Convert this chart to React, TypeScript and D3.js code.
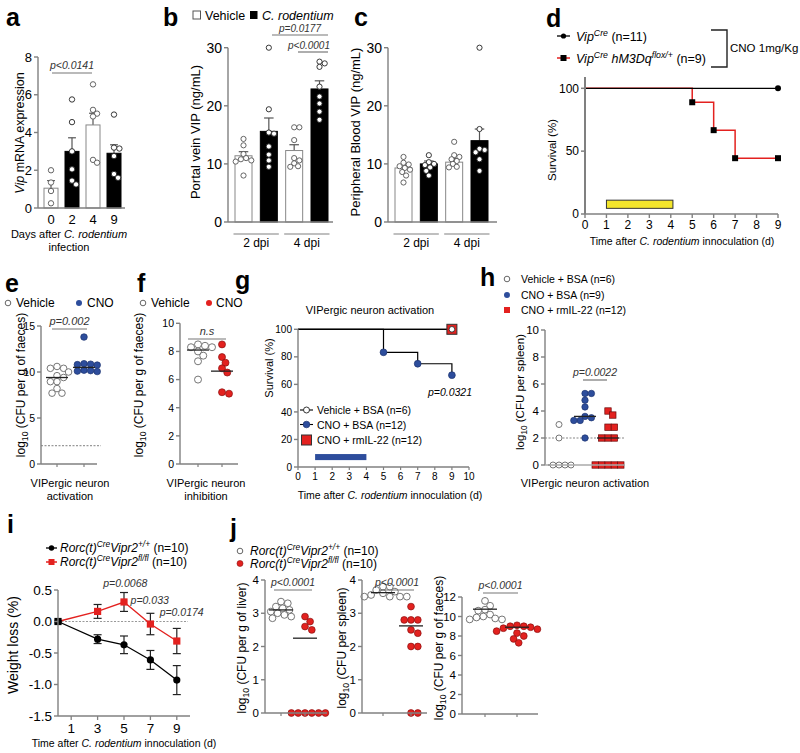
import React from "react";
import * as d3 from "d3";

const FONT = "'Liberation Sans', Arial, Helvetica, sans-serif";
const AXIS = "#808080";
const BLUE = "#2d4d9c";
const RED = "#e3211f";

// ---------------- data ----------------
// a
const aDays = ["0", "2", "4", "9"];
const aMeans = [1.05, 3.0, 4.4, 2.9];
const aSem = [0.4, 0.72, 0.62, 0.45];
const aPoints = [
  [2.0, 1.35, 0.9, 0.25],
  [5.75, 4.55, 3.0, 2.05, 1.45, 1.25],
  [6.55, 5.2, 5.0, 4.85, 2.55, 2.4],
  [4.95, 3.2, 3.15, 2.75, 1.8, 1.6],
];
const aTicks = [0, 2, 4, 6, 8];
// b
const bDpi = ["2 dpi", "4 dpi"];
const bMeans = [11.4, 15.6, 12.3, 22.9];
const bSem = [0.7, 2.3, 1.0, 1.4];
const bPoints = [
  [14.3, 13.2, 11.7, 11.0, 10.8, 10.6, 10.4, 8.0],
  [30.0, 19.4, 15.4, 15.2, 13.0, 11.6, 10.6, 9.5],
  [16.3, 16.3, 14.1, 11.0, 10.6, 10.1, 9.6, 9.5],
  [27.6, 27.3, 26.7, 23.3, 21.6, 20.4, 19.0, 17.6],
];
const vipTicks = [0, 10, 20, 30];
// c
const cMeans = [9.3, 10.0, 10.3, 14.0];
const cSem = [0.5, 0.5, 0.6, 2.0];
const cPoints = [
  [11.2, 10.2, 9.9, 9.6, 9.3, 9.0, 8.6, 8.0, 6.8],
  [11.5, 10.3, 10.0, 9.8, 9.4, 8.8, 8.0],
  [13.8, 11.5, 11.2, 10.8, 10.5, 10.0, 9.5, 9.4],
  [30.0, 16.0, 12.6, 12.4, 12.0, 10.8, 8.8],
];
const barFills = ["white", "black", "white", "black"];
// d
const dDays = d3.range(0, 10);
const dCtrlT = [0, 9];
const dCtrlV = [100, 100];
const dHmT = [0, 5, 6, 7, 9];
const dHmV = [100, 88.9, 66.7, 44.4, 44.4];
const dYTicks = [0, 50, 100];
const dTreat = [1, 4.1];
// e
const eVeh = [10.6, 10.4, 10.4, 10.0, 9.6, 9.4, 8.95, 8.95, 8.2, 7.7, 7.7];
const eCno = [13.8, 10.9, 10.85, 10.8, 10.75, 10.2, 10.15, 10.1, 10.05];
const eLines = [9.4, 10.5];
const eTicks = [0, 5, 10, 15];
// f
const fVeh = [8.4, 8.3, 8.3, 8.5, 8.0, 7.7, 7.3, 6.0];
const fCno = [8.5, 7.6, 7.2, 6.8, 6.5, 5.0, 5.1];
const fLines = [8.1, 6.6];
const fTicks = [0, 2, 4, 6, 8, 10];
// g
const gVehT = [0, 9];
const gVehV = [100, 100];
const gBsaT = [0, 5, 7, 9];
const gBsaV = [100, 83.3, 75, 66.7];
const gIlT = [0, 9];
const gIlV = [100, 100];
const gXTicks = d3.range(0, 11);
const gYTicks = [0, 20, 40, 60, 80, 100];
const gTreat = [1, 4];
// h
const hVeh = [3.0, 2.0, 0, 0, 0, 0];
const hBsa = [5.3, 5.3, 4.8, 4.3, 3.6, 3.5, 3.3, 3.3, 2.0];
const hIl = [4.0, 3.7, 2.8, 2.8, 2.0, 2.0, 2.0, 0, 0, 0, 0, 0];
const hTicks = [0, 2, 4, 6, 8, 10];
// i
const iDays = [0, 3, 5, 7, 9];
const iWt = [0, -0.28, -0.37, -0.61, -0.93];
const iWtErr = [0, 0.07, 0.14, 0.15, 0.23];
const iKo = [0, 0.16, 0.31, -0.04, -0.31];
const iKoErr = [0, 0.11, 0.15, 0.17, 0.2];
const iXTicks = [1, 3, 5, 7, 9];
const iYTicks = [0.5, 0, -0.5, -1.0, -1.5];
// j
const jLiverWt = [3.35, 3.3, 3.2, 3.15, 3.1, 3.05, 3.0, 2.95, 2.9, 2.85];
const jLiverKo = [2.9, 2.75, 2.6, 2.5, 0, 0, 0, 0, 0, 0];
const jLiverLines = [3.1, 2.25];
const jSpleenWt = [3.8, 3.8, 3.7, 3.65, 3.6, 3.55, 3.5, 3.5, 3.5, 3.5];
const jSpleenKo = [3.2, 2.8, 2.8, 2.8, 2.5, 2.4, 2.0, 2.0, 0, 0];
const jSpleenLines = [3.62, 2.62];
const jFaecesWt = [11.6, 11.1, 10.7, 10.6, 10.2, 10.0, 9.9, 9.8, 9.7, 9.7];
const jFaecesKo = [9.1, 9.0, 9.0, 8.9, 8.8, 8.7, 8.5, 8.3, 8.0, 7.7, 7.3];
const jFaecesLines = [10.75, 8.9];
const jTicks4 = [0, 1, 2, 3, 4];
const jTicks12 = [0, 2, 4, 6, 8, 10, 12];

// ---------------- helpers ----------------
type Pt = { x: number; y: number };
function swarm(values: number[], y: (v: number) => number, cx: number, r: number): Pt[] {
  const placed: Pt[] = [];
  const sorted = [...values].sort((a, b) => b - a);
  for (const v of sorted) {
    const py = y(v);
    for (let k = 0; k < 80; k++) {
      const off = k === 0 ? 0 : Math.ceil(k / 2) * r * 0.5 * (k % 2 ? 1 : -1);
      const px = cx + off;
      if (placed.every((p) => (p.x - px) ** 2 + (p.y - py) ** 2 >= (2 * r * 0.9) ** 2)) {
        placed.push({ x: px, y: py });
        break;
      }
    }
  }
  return placed;
}

function YAxis({ x, y, ticks, fs, fmt = (t: number) => String(t), len = 4, top }: any) {
  const dom = y.domain();
  return (
    <g>
      <line x1={x} x2={x} y1={y(dom[0])} y2={top ?? y(dom[1])} stroke={AXIS} strokeWidth={1.4} />
      {ticks.map((t: number) => (
        <g key={t}>
          <line x1={x - len} x2={x} y1={y(t)} y2={y(t)} stroke={AXIS} strokeWidth={1.4} />
          <text x={x - len - 2} y={y(t)} dy="0.36em" textAnchor="end" fontSize={fs}>
            {fmt(t)}
          </text>
        </g>
      ))}
    </g>
  );
}

function HLine({ x1, x2, y, w = 1.4, color = AXIS, dash }: any) {
  return <line x1={x1} x2={x2} y1={y} y2={y} stroke={color} strokeWidth={w} strokeDasharray={dash} />;
}

function Letter({ x, y, c }: any) {
  return (
    <text x={x} y={y} fontSize={25} fontWeight="bold">
      {c}
    </text>
  );
}

function YLabel({ x, y, fs, children }: any) {
  return (
    <text transform={`translate(${x},${y}) rotate(-90)`} textAnchor="middle" fontSize={fs}>
      {children}
    </text>
  );
}

function Log10({ rest }: { rest: string }) {
  return (
    <>
      <tspan>log</tspan>
      <tspan dy={3} fontSize="0.72em">10</tspan>
      <tspan dy={-3}>{" " + rest}</tspan>
    </>
  );
}

function Sig({ x1, x2, y, label, fs = 10.5, tx, ty }: any) {
  return (
    <g>
      <HLine x1={x1} x2={x2} y={y} w={1.2} color="#777" />
      <text x={tx ?? (x1 + x2) / 2} y={ty ?? y - 4} textAnchor="middle" fontSize={fs} fontStyle="italic" fill="#333">
        {label}
      </text>
    </g>
  );
}

function BarChart({ axisX, axisEnd, y, centers, bw, means, sems, points, ticks, fs, r = 2.6 }: any) {
  const y0 = y(0);
  return (
    <g>
      {means.map((m: number, i: number) => {
        const cx = centers[i];
        const black = barFills[i] === "black";
        const top = y(m + sems[i]);
        return (
          <g key={i}>
            <line x1={cx} x2={cx} y1={y(m)} y2={top} stroke="#555" strokeWidth={1.2} />
            <line x1={cx - bw * 0.28} x2={cx + bw * 0.28} y1={top} y2={top} stroke="#555" strokeWidth={1.2} />
            <rect x={cx - bw / 2} y={y(m)} width={bw} height={y0 - y(m)} fill={black ? "#000" : "#fff"} stroke={black ? "#000" : "#888"} strokeWidth={1} />
            {swarm(points[i], y, cx, r).map((p, k) => (
              <circle key={k} cx={p.x} cy={p.y} r={r} fill="#fff" stroke={black ? "#222" : "#555"} strokeWidth={0.9} />
            ))}
          </g>
        );
      })}
      <YAxis x={axisX} y={y} ticks={ticks} fs={fs} />
      <HLine x1={axisX} x2={axisEnd} y={y0} />
    </g>
  );
}

function Dots({ values, y, cx, r, kind }: any) {
  const pts = swarm(values, y, cx, r);
  return (
    <g>
      {pts.map((p, k) => {
        if (kind === "open") return <circle key={k} cx={p.x} cy={p.y} r={r} fill="#fff" stroke="#666" strokeWidth={0.9} />;
        if (kind === "blue") return <circle key={k} cx={p.x} cy={p.y} r={r} fill={BLUE} stroke="#1c3370" strokeWidth={0.7} />;
        if (kind === "red") return <circle key={k} cx={p.x} cy={p.y} r={r} fill={RED} stroke="#8a1010" strokeWidth={0.7} />;
        return <rect key={k} x={p.x - r} y={p.y - r} width={2 * r} height={2 * r} fill={RED} stroke="#6a0b0b" strokeWidth={0.7} />;
      })}
    </g>
  );
}

function MeanLine({ cx, y, v, w = 22 }: any) {
  return <HLine x1={cx - w / 2} x2={cx + w / 2} y={y(v)} w={1.3} color="#222" />;
}

function CatTicks({ xs, y }: any) {
  return (
    <g>
      {xs.map((x: number, i: number) => (
        <line key={i} x1={x} x2={x} y1={y} y2={y + 3} stroke={AXIS} strokeWidth={1.2} />
      ))}
    </g>
  );
}

function Rorc({ sup }: { sup: string }) {
  return (
    <>
      <tspan fontStyle="italic">Rorc(t)</tspan>
      <tspan fontStyle="italic" dy={-5} fontSize="0.7em">Cre</tspan>
      <tspan fontStyle="italic" dy={5}>Vipr2</tspan>
      <tspan fontStyle="italic" dy={-5} fontSize="0.7em">{sup}</tspan>
      <tspan dy={5}> (n=10)</tspan>
    </>
  );
}

function TimeLabel({ x, y, fs = 10.5 }: any) {
  return (
    <text x={x} y={y} textAnchor="middle" fontSize={fs}>
      Time after <tspan fontStyle="italic">C. rodentium</tspan> innoculation (d)
    </text>
  );
}

// ---------------- panels ----------------
function PanelA() {
  const y = d3.scaleLinear().domain([0, 8]).range([208, 57]);
  const x = d3.scalePoint<string>().domain(aDays).range([51, 114]);
  const centers = aDays.map((d) => x(d) as number);
  return (
    <g>
      <Letter x={6} y={26} c="a" />
      <BarChart axisX={38} axisEnd={125} y={y} centers={centers} bw={14} means={aMeans} sems={aSem} points={aPoints} ticks={aTicks} fs={13} r={2.7} />
      {aDays.map((d, i) => (
        <text key={d} x={centers[i]} y={224} textAnchor="middle" fontSize={13}>
          {d}
        </text>
      ))}
      <Sig x1={52} x2={92} y={73} label="p<0.0141" />
      <YLabel x={24} y={133} fs={12.5}>
        <tspan fontStyle="italic">Vip</tspan> mRNA expression
      </YLabel>
      <text x={69} y={238} textAnchor="middle" fontSize={11}>
        Days after <tspan fontStyle="italic">C. rodentium</tspan>
      </text>
      <text x={69} y={251} textAnchor="middle" fontSize={11}>
        infection
      </text>
    </g>
  );
}

function GroupLabels({ centers }: any) {
  return (
    <g>
      {bDpi.map((g, i) => {
        const a = centers[i * 2] - 10;
        const b = centers[i * 2 + 1] + 10;
        return (
          <g key={g}>
            <HLine x1={a} x2={b} y={234} w={1.2} />
            <text x={(a + b) / 2} y={247} textAnchor="middle" fontSize={12}>
              {g}
            </text>
          </g>
        );
      })}
    </g>
  );
}

function PanelB() {
  const y = d3.scaleLinear().domain([0, 30]).range([222, 47.7]);
  const x = d3.scalePoint<number>().domain([0, 1, 2, 3]).range([243.5, 319.5]);
  const centers = [0, 1, 2, 3].map((i) => x(i) as number);
  return (
    <g>
      <Letter x={163} y={26} c="b" />
      <rect x={193} y={11} width={7.5} height={8} fill="#fff" stroke="#555" strokeWidth={1} />
      <text x={205} y={19.5} fontSize={12.5}>Vehicle</text>
      <rect x={250} y={11} width={7.5} height={8} fill="#000" />
      <text x={262} y={19.5} fontSize={12.5} fontStyle="italic">C. rodentium</text>
      <BarChart axisX={228} axisEnd={333} y={y} centers={centers} bw={17} means={bMeans} sems={bSem} points={bPoints} ticks={vipTicks} fs={14} />
      <GroupLabels centers={centers} />
      <Sig x1={272} x2={328} y={35} label="p=0.0177" ty={32} fs={10} />
      <Sig x1={298} x2={328} y={52} label="p<0.0001" tx={309} ty={49} fs={10} />
      <YLabel x={200} y={132} fs={13}>Portal vein VIP (ng/mL)</YLabel>
    </g>
  );
}

function PanelC() {
  const y = d3.scaleLinear().domain([0, 30]).range([222, 47.7]);
  const x = d3.scalePoint<number>().domain([0, 1, 2, 3]).range([403.5, 479.5]);
  const centers = [0, 1, 2, 3].map((i) => x(i) as number);
  return (
    <g>
      <Letter x={354} y={26} c="c" />
      <BarChart axisX={388} axisEnd={497} y={y} centers={centers} bw={17} means={cMeans} sems={cSem} points={cPoints} ticks={vipTicks} fs={14} />
      <GroupLabels centers={centers} />
      <YLabel x={360} y={132} fs={13}>Peripheral Blood VIP (ng/mL)</YLabel>
    </g>
  );
}

function PanelD() {
  const X0 = 585;
  const x = d3.scaleLinear().domain([0, 9]).range([X0, 778]);
  const y = d3.scaleLinear().domain([0, 100]).range([214, 88.3]);
  const line = d3.line<number>().curve(d3.curveStepAfter);
  const ctrl = line(dCtrlT.map((t, i) => [x(t), y(dCtrlV[i])]) as any);
  const hm = line(dHmT.map((t, i) => [x(t), y(dHmV[i])]) as any);
  return (
    <g>
      <Letter x={546} y={27} c="d" />
      {/* legend */}
      <line x1={557} x2={570} y1={36} y2={36} stroke="#000" strokeWidth={1.3} />
      <circle cx={563.5} cy={36} r={2.6} fill="#000" />
      <text x={576} y={40.5} fontSize={12.5}>
        <tspan fontStyle="italic">Vip</tspan>
        <tspan fontStyle="italic" dy={-5} fontSize="0.7em">Cre</tspan>
        <tspan dy={5}> (n=11)</tspan>
      </text>
      <line x1={557} x2={570} y1={58} y2={58} stroke={RED} strokeWidth={1.5} />
      <rect x={560.5} y={55} width={6} height={6} fill="#000" />
      <text x={576} y={62.5} fontSize={12.5}>
        <tspan fontStyle="italic">Vip</tspan>
        <tspan fontStyle="italic" dy={-5} fontSize="0.7em">Cre</tspan>
        <tspan fontStyle="italic" dy={5}> hM3Dq</tspan>
        <tspan fontStyle="italic" dy={-5} fontSize="0.7em">flox/+</tspan>
        <tspan dy={5}> (n=9)</tspan>
      </text>
      <path d="M711,30H727V67H711" fill="none" stroke="#222" strokeWidth={1.4} />
      <text x={730} y={52} fontSize={11.5}>CNO 1mg/Kg</text>
      {/* treatment bar */}
      <rect x={x(dTreat[0])} y={y(11)} width={x(dTreat[1]) - x(dTreat[0])} height={y(4.5) - y(11)} fill="#f3e52b" stroke="#333" strokeWidth={1} />
      {/* curves */}
      <path d={hm as string} fill="none" stroke={RED} strokeWidth={1.5} />
      <path d={ctrl as string} fill="none" stroke="#000" strokeWidth={1.2} />
      <circle cx={x(9)} cy={y(100)} r={3} fill="#000" />
      {dHmT.slice(1).map((t, i) => (
        <rect key={t} x={x(t) - 3} y={y(dHmV[i + 1]) - 3} width={6} height={6} fill="#000" />
      ))}
      {/* axes */}
      <line x1={X0} x2={X0} y1={y(0)} y2={77} stroke={AXIS} strokeWidth={2} />
      {dYTicks.map((t) => (
        <g key={t}>
          <line x1={X0 - 4} x2={X0} y1={y(t)} y2={y(t)} stroke={AXIS} strokeWidth={1.5} />
          <text x={X0 - 6} y={y(t)} dy="0.36em" textAnchor="end" fontSize={12}>
            {t}
          </text>
        </g>
      ))}
      <HLine x1={X0} x2={778} y={y(0)} w={1.5} />
      {dDays.map((t) => (
        <g key={t}>
          <line x1={x(t)} x2={x(t)} y1={y(0)} y2={y(0) + 4} stroke={AXIS} strokeWidth={1.4} />
          <text x={x(t)} y={y(0) + 15} textAnchor="middle" fontSize={12}>
            {t}
          </text>
        </g>
      ))}
      <YLabel x={556} y={150} fs={11.5}>Survival (%)</YLabel>
      <TimeLabel x={682} y={245} />
    </g>
  );
}

function PanelE() {
  const y = d3.scaleLinear().domain([0, 15]).range([464, 326]);
  const xs = [57, 84];
  return (
    <g>
      <Letter x={5} y={292} c="e" />
      <circle cx={8} cy={303} r={2.8} fill="#fff" stroke="#666" />
      <text x={16} y={307} fontSize={12}>Vehicle</text>
      <circle cx={79} cy={303} r={3} fill={BLUE} />
      <text x={87} y={307} fontSize={12}>CNO</text>
      <HLine x1={41} x2={101} y={y(2)} w={1.2} color="#999" dash="2,1.5" />
      <Dots values={eVeh} y={y} cx={xs[0]} r={3.3} kind="open" />
      <Dots values={eCno} y={y} cx={xs[1]} r={3.3} kind="blue" />
      <MeanLine cx={xs[0]} y={y} v={eLines[0]} />
      <MeanLine cx={xs[1]} y={y} v={eLines[1]} />
      <YAxis x={41} y={y} ticks={eTicks} fs={10.5} />
      <HLine x1={41} x2={97} y={y(0)} />
      <CatTicks xs={xs} y={y(0)} />
      <Sig x1={52} x2={87} y={329} label="p=0.002" fs={11} />
      <YLabel x={25} y={385} fs={12}>
        <Log10 rest="(CFU per g of faeces)" />
      </YLabel>
      <text x={70} y={487} textAnchor="middle" fontSize={11}>VIPergic neuron</text>
      <text x={70} y={500} textAnchor="middle" fontSize={11}>activation</text>
    </g>
  );
}

function PanelF() {
  const y = d3.scaleLinear().domain([0, 10]).range([464, 323.3]);
  const xs = [198, 222];
  return (
    <g>
      <Letter x={137} y={292} c="f" />
      <circle cx={143} cy={303} r={2.8} fill="#fff" stroke="#666" />
      <text x={151} y={307} fontSize={12}>Vehicle</text>
      <circle cx={209} cy={303} r={3} fill={RED} />
      <text x={216} y={307} fontSize={12}>CNO</text>
      <Dots values={fVeh} y={y} cx={xs[0]} r={3.5} kind="open" />
      <Dots values={fCno} y={y} cx={xs[1]} r={3.5} kind="red" />
      <MeanLine cx={xs[0]} y={y} v={fLines[0]} />
      <MeanLine cx={xs[1]} y={y} v={fLines[1]} />
      <YAxis x={180} y={y} ticks={fTicks} fs={10.5} />
      <HLine x1={180} x2={238} y={y(0)} />
      <CatTicks xs={xs} y={y(0)} />
      <Sig x1={188} x2={226} y={339} label="n.s" fs={11} />
      <YLabel x={143} y={385} fs={12}>
        <Log10 rest="(CFU per g of faeces)" />
      </YLabel>
      <text x={206} y={487} textAnchor="middle" fontSize={11}>VIPergic neuron</text>
      <text x={206} y={500} textAnchor="middle" fontSize={11}>inhibition</text>
    </g>
  );
}

function PanelG() {
  const x = d3.scaleLinear().domain([0, 10]).range([298, 469]);
  const y = d3.scaleLinear().domain([0, 100]).range([467, 329.3]);
  const line = d3.line<number>().curve(d3.curveStepAfter);
  const mk = (T: number[], V: number[]) => line(T.map((t, i) => [x(t), y(V[i])]) as any) as string;
  return (
    <g>
      <Letter x={235} y={289} c="g" />
      <text x={370} y={314} textAnchor="middle" fontSize={11}>VIPergic neuron activation</text>
      <rect x={x(gTreat[0])} y={y(9.4)} width={x(gTreat[1]) - x(gTreat[0])} height={y(5) - y(9.4)} fill={BLUE} />
      <path d={mk(gIlT, gIlV)} fill="none" stroke="#000" strokeWidth={1.2} />
      <path d={mk(gBsaT, gBsaV)} fill="none" stroke="#000" strokeWidth={1.2} />
      <path d={mk(gVehT, gVehV)} fill="none" stroke="#000" strokeWidth={1.2} />
      {gBsaT.slice(1).map((t, i) => (
        <circle key={t} cx={x(t)} cy={y(gBsaV[i + 1])} r={3.4} fill={BLUE} stroke="#1c3370" strokeWidth={0.7} />
      ))}
      <rect x={x(9) - 5} y={y(100) - 5} width={10} height={10} fill={RED} stroke="#333" strokeWidth={1} />
      <circle cx={x(9)} cy={y(100)} r={2.8} fill="#fff" stroke="#333" strokeWidth={0.9} />
      <text x={472} y={396} textAnchor="end" fontSize={10.5} fontStyle="italic">p=0.0321</text>
      {/* legend */}
      <line x1={300} x2={313} y1={410} y2={410} stroke="#000" strokeWidth={1.1} />
      <circle cx={306.5} cy={410} r={3} fill="#fff" stroke="#333" />
      <text x={317} y={414} fontSize={10.5}>Vehicle + BSA (n=6)</text>
      <line x1={300} x2={313} y1={424.5} y2={424.5} stroke="#000" strokeWidth={1.1} />
      <circle cx={306.5} cy={424.5} r={3.3} fill={BLUE} stroke="#1c3370" strokeWidth={0.7} />
      <text x={317} y={428.5} fontSize={10.5}>CNO + BSA (n=12)</text>
      <rect x={301.5} y={435} width={10} height={10} fill={RED} stroke="#333" strokeWidth={1} />
      <text x={317} y={444} fontSize={10.5}>CNO + rmIL-22 (n=12)</text>
      {/* axes */}
      <YAxis x={298} y={y} ticks={gYTicks} fs={10} />
      <HLine x1={298} x2={469} y={y(0)} />
      {gXTicks.map((t) => (
        <g key={t}>
          <line x1={x(t)} x2={x(t)} y1={y(0)} y2={y(0) + 3} stroke={AXIS} strokeWidth={1.2} />
          <text x={x(t)} y={y(0) + 13} textAnchor="middle" fontSize={10}>
            {t}
          </text>
        </g>
      ))}
      <YLabel x={273} y={368} fs={11}>Survival (%)</YLabel>
      <TimeLabel x={390} y={499} />
    </g>
  );
}

function PanelH() {
  const y = d3.scaleLinear().domain([0, 10]).range([465, 330]);
  const xs = [559, 585, 608];
  const med = (v: number[]) => d3.median(v) as number;
  return (
    <g>
      <Letter x={480} y={286} c="h" />
      <circle cx={507} cy={279} r={2.8} fill="#fff" stroke="#666" />
      <text x={521} y={283} fontSize={10.5}>Vehicle + BSA (n=6)</text>
      <circle cx={507} cy={295} r={3} fill={BLUE} />
      <text x={521} y={299} fontSize={10.5}>CNO + BSA (n=9)</text>
      <rect x={504} y={307} width={6} height={6} fill={RED} />
      <text x={521} y={314} fontSize={10.5}>CNO + rmIL-22 (n=12)</text>
      <HLine x1={545} x2={625} y={y(2)} w={1.1} color="#888" dash="2,1.5" />
      <MeanLine cx={xs[0]} y={y} v={med(hVeh)} />
      <Dots values={hVeh} y={y} cx={xs[0]} r={3} kind="open" />
      <Dots values={hBsa} y={y} cx={xs[1]} r={3.2} kind="blue" />
      <Dots values={hIl} y={y} cx={xs[2]} r={3.2} kind="square" />
      <MeanLine cx={xs[1]} y={y} v={med(hBsa)} />
      <MeanLine cx={xs[2]} y={y} v={med(hIl)} />
      <YAxis x={545} y={y} ticks={hTicks} fs={11.5} />
      <HLine x1={545} x2={625} y={y(0)} w={1.6} color="#aaa" />
      <Sig x1={583} x2={607} y={380} label="p=0.0022" fs={10.5} />
      <YLabel x={524} y={392} fs={11.5}>
        <Log10 rest="(CFU per spleen)" />
      </YLabel>
      <text x={585} y={487} textAnchor="middle" fontSize={11}>VIPergic neuron activation</text>
    </g>
  );
}

function PanelI() {
  const x = d3.scaleLinear().domain([0, 10]).range([58, 190]);
  const y = d3.scaleLinear().domain([-1.5, 0.5]).range([716, 590]);
  const line = d3.line<number>();
  const wt = line(iDays.map((d, i) => [x(d), y(iWt[i])]) as any) as string;
  const ko = line(iDays.map((d, i) => [x(d), y(iKo[i])]) as any) as string;
  const errs = (vals: number[], err: number[], color: string) =>
    iDays.map((d, i) =>
      err[i] > 0 ? (
        <g key={d} stroke={color} strokeWidth={1.2}>
          <line x1={x(d)} x2={x(d)} y1={y(vals[i] - err[i])} y2={y(vals[i] + err[i])} />
          <line x1={x(d) - 4} x2={x(d) + 4} y1={y(vals[i] - err[i])} y2={y(vals[i] - err[i])} />
          <line x1={x(d) - 4} x2={x(d) + 4} y1={y(vals[i] + err[i])} y2={y(vals[i] + err[i])} />
        </g>
      ) : null
    );
  return (
    <g>
      <Letter x={7} y={533} c="i" />
      <line x1={46} x2={57} y1={548} y2={548} stroke="#000" strokeWidth={1.3} />
      <circle cx={51.5} cy={548} r={2.7} fill="#000" />
      <text x={60} y={552} fontSize={12}>
        <Rorc sup="+/+" />
      </text>
      <line x1={46} x2={57} y1={562} y2={562} stroke={RED} strokeWidth={1.5} />
      <rect x={48.5} y={559} width={6} height={6} fill={RED} />
      <text x={60} y={566} fontSize={12}>
        <Rorc sup="fl/fl" />
      </text>
      <HLine x1={58} x2={188} y={y(0)} w={1.1} color="#999" dash="2,1.5" />
      {errs(iWt, iWtErr, "#222")}
      {errs(iKo, iKoErr, "#222")}
      <path d={wt} fill="none" stroke="#000" strokeWidth={1.3} />
      <path d={ko} fill="none" stroke={RED} strokeWidth={1.4} />
      {iDays.map((d, i) => (
        <circle key={d} cx={x(d)} cy={y(iWt[i])} r={3.6} fill="#000" />
      ))}
      {iDays.map((d, i) => (
        <rect key={d} x={x(d) - 3.6} y={y(iKo[i]) - 3.6} width={7.2} height={7.2} fill={i === 0 ? "#000" : RED} />
      ))}
      <text x={x(5.1)} y={y(0.55)} textAnchor="middle" fontSize={10.5} fontStyle="italic" fill="#333">p=0.0068</text>
      <text x={x(5.5)} y={y(0.27)} fontSize={10.5} fontStyle="italic" fill="#333">p=0.033</text>
      <text x={x(7.7)} y={y(0.08)} fontSize={10.5} fontStyle="italic" fill="#333">p=0.0174</text>
      <YAxis x={58} y={y} ticks={iYTicks} fs={13.5} fmt={(t: number) => d3.format(".1f")(t).replace("−", "-")} />
      <HLine x1={58} x2={190} y={y(-1.5)} />
      {iXTicks.map((t) => (
        <g key={t}>
          <line x1={x(t)} x2={x(t)} y1={716} y2={720} stroke={AXIS} strokeWidth={1.3} />
          <text x={x(t)} y={733} textAnchor="middle" fontSize={13.5}>
            {t}
          </text>
        </g>
      ))}
      <YLabel x={18} y={645} fs={14}>Weight loss (%)</YLabel>
      <TimeLabel x={124} y={747} />
    </g>
  );
}

function JSub({ axisX, axisEnd, y, xs, wt, ko, lines, ticks, label, lx, sig }: any) {
  return (
    <g>
      <Dots values={wt} y={y} cx={xs[0]} r={3.4} kind="open" />
      <Dots values={ko} y={y} cx={xs[1]} r={3.4} kind="red" />
      <MeanLine cx={xs[0]} y={y} v={lines[0]} w={24} />
      <MeanLine cx={xs[1]} y={y} v={lines[1]} w={24} />
      <YAxis x={axisX} y={y} ticks={ticks} fs={11.5} />
      <HLine x1={axisX} x2={axisEnd} y={y(0)} />
      <CatTicks xs={xs} y={y(0)} />
      <Sig x1={sig[0]} x2={sig[1]} y={sig[2]} label="p<0.0001" fs={10.5} />
      <YLabel x={lx} y={648} fs={12}>
        <Log10 rest={label} />
      </YLabel>
    </g>
  );
}

function PanelJ() {
  const y4 = d3.scaleLinear().domain([0, 4]).range([713, 580]);
  const y12 = d3.scaleLinear().domain([0, 12]).range([714, 597]);
  return (
    <g>
      <Letter x={230} y={537} c="j" />
      <circle cx={240} cy={551} r={2.8} fill="#fff" stroke="#666" />
      <text x={250} y={555} fontSize={12}>
        <Rorc sup="+/+" />
      </text>
      <circle cx={240} cy={563.5} r={3} fill={RED} stroke="#8a1010" strokeWidth={0.6} />
      <text x={250} y={567.5} fontSize={12}>
        <Rorc sup="fl/fl" />
      </text>
      <JSub axisX={265} axisEnd={327} y={y4} xs={[281, 305]} wt={jLiverWt} ko={jLiverKo} lines={jLiverLines} ticks={jTicks4} label="(CFU per g of liver)" lx={246} sig={[274, 312, 590]} />
      <JSub axisX={362} axisEnd={427} y={y4} xs={[383, 411]} wt={jSpleenWt} ko={jSpleenKo} lines={jSpleenLines} ticks={jTicks4} label="(CFU per spleen)" lx={346} sig={[380, 414, 590]} />
      <JSub axisX={462} axisEnd={538} y={y12} xs={[485, 517]} wt={jFaecesWt} ko={jFaecesKo} lines={jFaecesLines} ticks={jTicks12} label="(CFU per g of faeces)" lx={443} sig={[483, 518, 593]} />
    </g>
  );
}

export default function App() {
  return (
    <svg width={800} height={753} viewBox="0 0 800 753" style={{ position: "absolute", left: 0, top: 0, background: "#fff" }} fontFamily={FONT}>
      <rect width={800} height={753} fill="#fff" />
      <PanelA />
      <PanelB />
      <PanelC />
      <PanelD />
      <PanelE />
      <PanelF />
      <PanelG />
      <PanelH />
      <PanelI />
      <PanelJ />
    </svg>
  );
}
